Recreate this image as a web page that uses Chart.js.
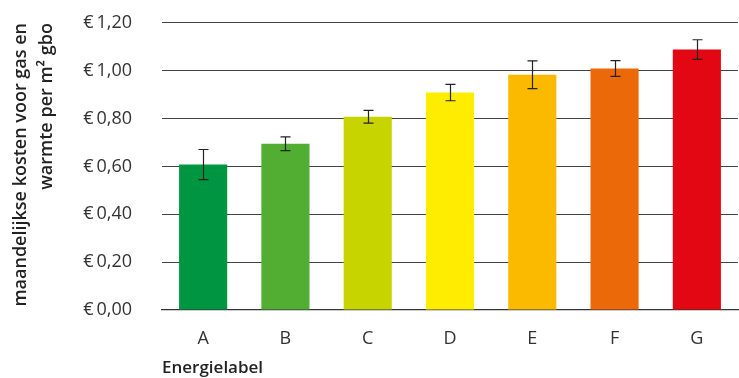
<!DOCTYPE html>
<html>
<head>
<meta charset="utf-8">
<script src="https://cdn.jsdelivr.net/npm/chart.js@4"></script>
<style>
  html, body { margin: 0; padding: 0; background: #fff; }
  #wrap { width: 739px; height: 378px; position: relative; }
</style>
</head>
<body>
<div id="wrap"><canvas id="chart"></canvas></div>
<script>
const LABELS = ['A', 'B', 'C', 'D', 'E', 'F', 'G'];
const COSTS  = [0.608, 0.695, 0.808, 0.909, 0.984, 1.010, 1.089];
const ERRORS = [0.063, 0.029, 0.027, 0.034, 0.058, 0.033, 0.041];
const BAR_COLORS = ['#009540', '#52AE32', '#C8D400', '#FFED00', '#FBBA00', '#EB6909', '#E30613'];
const Y_TITLE = ['maandelijkse kosten voor gas en', 'warmte per m\u00B2 gbo'];
const X_TITLE = 'Energielabel';

const FONT = "'Open Sans', 'Noto Sans', sans-serif";

const euro = v => '\u20AC\u2009' + v.toFixed(2).replace('.', ',');

// ── Error bars ──────────────────────────────────────────────────────
const errorBars = {
  id: 'errorBars',
  afterDatasetsDraw(chart) {
    const { ctx } = chart;
    const y = chart.scales.y;
    const meta = chart.getDatasetMeta(0);
    ctx.save();
    ctx.strokeStyle = '#222';
    ctx.lineWidth = 1.2;
    meta.data.forEach((bar, i) => {
      const top = y.getPixelForValue(COSTS[i] + ERRORS[i]);
      const bot = y.getPixelForValue(COSTS[i] - ERRORS[i]);
      const x = Math.round(bar.x) + 0.5;
      const cap = 5;
      ctx.beginPath();
      ctx.moveTo(x, top); ctx.lineTo(x, bot);
      ctx.moveTo(x - cap, top); ctx.lineTo(x + cap, top);
      ctx.moveTo(x - cap, bot); ctx.lineTo(x + cap, bot);
      ctx.stroke();
    });
    ctx.restore();
  },
};

new Chart(document.getElementById('chart'), {
  type: 'bar',
  data: {
    labels: LABELS,
    datasets: [{
      data: COSTS,
      backgroundColor: BAR_COLORS,
      borderWidth: 0,
      barPercentage: 0.585,
      categoryPercentage: 1,
    }],
  },
  options: {
    responsive: true,
    maintainAspectRatio: false,
    animation: false,
    layout: { padding: 0 },
    plugins: {
      legend: { display: false },
      tooltip: { enabled: false },
    },
    scales: {
      x: {
        grid: { display: false, drawTicks: false },
        border: { display: true, color: '#333', width: 1.2 },
        ticks: {
          color: '#333',
          padding: 18,
          font: { family: FONT, size: 18 },
        },
        title: {
          display: true,
          text: X_TITLE,
          align: 'start',
          color: '#222',
          padding: { top: 1, bottom: 0 },
          font: { family: FONT, size: 17, weight: '600' },
        },
        afterFit: s => { s.height = 68; s.paddingLeft = 0; s.paddingRight = 1; },
      },
      y: {
        min: 0,
        max: 1.2,
        ticks: {
          stepSize: 0.2,
          color: '#333',
          padding: 30,
          font: { family: FONT, size: 18 },
          callback: v => euro(v),
        },
        grid: { color: '#444', lineWidth: 1.1, drawTicks: false },
        border: { display: false },
        title: {
          display: true,
          text: Y_TITLE,
          align: 'end',
          color: '#222',
          padding: { top: 8, bottom: 0 },
          font: { family: FONT, size: 18, weight: '600', lineHeight: 1.45 },
        },
        afterFit: s => { s.width = 162; s.paddingTop = 23; s.paddingBottom = 0; },
      },
    },
  },
  plugins: [errorBars],
});
</script>
</body>
</html>
